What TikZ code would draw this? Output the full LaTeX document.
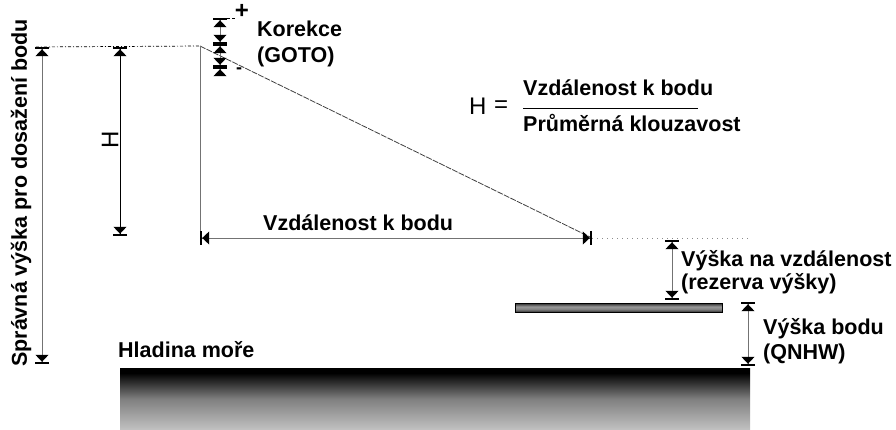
\documentclass[tikz,border=0pt]{standalone}
\usepackage{fontspec}
\setmainfont{Liberation Sans}
\usetikzlibrary{arrows.meta}
\pgfdeclareverticalshading{seashade}{100bp}{color(0bp)=(black!24); color(25bp)=(black!24); color(50bp)=(black!50); color(66bp)=(black!88); color(71bp)=(black); color(100bp)=(black)}
\pgfdeclareverticalshading{plankshade}{100bp}{color(0bp)=(black!80); color(25bp)=(black!80); color(40bp)=(black!50); color(55bp)=(black!40); color(75bp)=(black!85); color(100bp)=(black!85)}
\tikzset{
  lbl/.style={font=\fontsize{21.5}{25}\selectfont\bfseries, inner sep=0pt},
  bigtxt/.style={font=\fontsize{24}{28}\selectfont, inner sep=0pt},
  dimline/.style={line width=0.8pt,
    {Bar[width=14pt,line width=2.2pt,color=black,sep=0pt]Triangle[length=7pt,width=13pt,sep=0pt,color=black]}-{Triangle[length=7pt,width=13pt,sep=0pt,color=black]Bar[width=14pt,line width=2.2pt,color=black,sep=0pt]}},
  upend/.style={line width=0.8pt,
    {Bar[width=14pt,line width=2.2pt,color=black,sep=0pt]Triangle[length=7pt,width=13pt,sep=0pt,color=black]}-},
  grayline/.style={draw=black!55},
  dashdotline/.style={line width=0.7pt, dash pattern=on 3pt off 2pt on 1pt off 2pt},
  dotline/.style={line width=0.7pt, draw=black!45, dash pattern=on 1pt off 4pt},
  slopeline/.style={line width=0.8pt, draw=black!75, dash pattern=on 6pt off 1.2pt},
  signtxt/.style={font=\fontsize{24}{26}\selectfont\bfseries, inner sep=0pt},
}
\begin{document}
\begin{tikzpicture}[x=1pt,y=-1pt]
\useasboundingbox (0,0) rectangle (896,430);
% coordinates
\coordinate (L0) at (36,47);
\coordinate (S0) at (200,46);
\coordinate (A1t) at (42,47);
\coordinate (A1b) at (42,364);
\coordinate (A2t) at (120,47);
\coordinate (A2b) at (120,236);
\coordinate (V3b) at (200,238);
\coordinate (Hr) at (592,238);
\coordinate (D1) at (750,238);
\coordinate (A4t) at (672,240);
\coordinate (A4b) at (672,300);
\coordinate (A5t) at (748,302);
\coordinate (A5b) at (748,366);
\coordinate (k0) at (220,18);
\coordinate (k1) at (220,44);
\coordinate (k2) at (220,67);
\coordinate (k3) at (220,75);
\coordinate (kt1) at (227,18);
\coordinate (kt2) at (235,18);
% sea
\path[shading=seashade] (120,368) rectangle (750,430);
\draw[line width=0.8pt] (120,368) -- (750,368);
% plank
\draw[shading=plankshade, line width=0.7pt] (515,303) rectangle (722,312);
% reference lines
\draw[dashdotline] (L0) -- (S0);
\draw[slopeline] (S0) -- (Hr);
\draw[grayline, line width=0.7pt] (S0) -- (V3b);
\draw[dotline] (Hr) -- (D1);
% dimension arrows
\draw[dimline, grayline] (A1t) -- (A1b);
\draw[dimline] (A2t) -- (A2b);
\draw[dimline, grayline] (V3b) -- (Hr);
\draw[dimline, grayline] (A4t) -- (A4b);
\draw[dimline, grayline] (A5t) -- (A5b);
% korekce
\draw[dimline, grayline] (k0) -- (k1);
\draw[dimline, grayline] (k1) -- (k2);
\draw[upend, grayline] (k2) -- (k3);
\draw[line width=0.7pt, dash pattern=on 3pt off 2pt] (kt1) -- (kt2);
% texts
\node[signtxt] (plus) at (242,11) {+};
\node[signtxt, font=\fontsize{18}{20}\selectfont\bfseries] (minus) at (239,71) {-};
\node[lbl, anchor=base west] (kor1) at (257,37) {Korekce};
\node[lbl, anchor=base west] (kor2) at (257,63) {(GOTO)};
\node[lbl, anchor=base west] (vzd) at (263,231) {Vzdálenost k bodu};
\node[bigtxt, anchor=base west] (fH) at (469,115) {H};
\node[bigtxt, anchor=base west] (feq) at (494,113) {=};
\node[lbl, anchor=base west] (fnum) at (523,96) {Vzdálenost k bodu};
\node[lbl, anchor=base west] (fden) at (523,132) {Průměrná klouzavost};
\draw[line width=0.8pt] (523,108) -- (698,108);
\node[lbl, anchor=base west] (vna1) at (681,266) {Výška na vzdálenost};
\node[lbl, anchor=base west] (vna2) at (681,289) {(rezerva výšky)};
\node[lbl, anchor=base west] (vb1) at (763,334) {Výška bodu};
\node[lbl, anchor=base west] (vb2) at (763,359) {(QNHW)};
\node[lbl, anchor=base west] (hm) at (118,357) {Hladina moře};
\node[lbl, anchor=base west, rotate=90] (spr) at (27,367) {Správná výška pro dosažení bodu};
\node[bigtxt, rotate=90] (vH) at (110,140) {H};
\end{tikzpicture}
\end{document}
